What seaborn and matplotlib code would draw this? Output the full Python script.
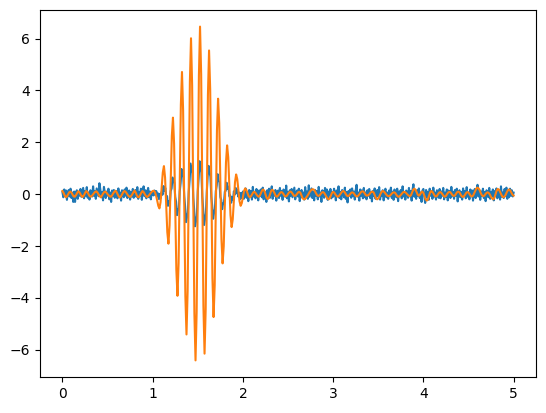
import numpy as np
import matplotlib
matplotlib.use("Agg")
import matplotlib.pyplot as plt
import seaborn as sns

blue = [
    0.08, -0.12, 0.18, -0.06, 0.14, -0.22, 0.06, 0.16, -0.09, 0.21, -0.15, 0.06, -0.30, 0.10, -0.30, 0.06, 0.15, -0.18, 0.09, -0.06,
    0.20, -0.10, 0.06, 0.24, -0.16, 0.12, -0.06, 0.27, -0.14, 0.06, -0.21, 0.15, 0.08, -0.09, 0.30, -0.06, 0.12, -0.18, 0.22, 0.06,
    -0.08, 0.42, 0.18, -0.12, 0.09, -0.24, 0.28, 0.06, -0.15, 0.10, -0.06, 0.21, -0.20, 0.06, -0.30, 0.14, -0.08, 0.16, -0.14, 0.06,
    0.12, -0.16, 0.22, -0.06, 0.06, -0.25, 0.15, 0.09, -0.12, 0.18, -0.06, 0.25, -0.15, -0.06, 0.14, -0.21, 0.08, -0.09, 0.20, -0.14,
    0.06, 0.16, -0.10, 0.27, -0.18, 0.09, -0.06, 0.21, -0.22, 0.12, 0.30, -0.08, 0.15, -0.16, 0.06, 0.24, -0.12, 0.10, -0.20, 0.06,
    # burst 1.0 .. 2.0
    0.06, -0.05, 0.14, -0.02, 0.12, -0.09, 0.03, -0.19, 0.01, -0.15,
    0.09, -0.02, 0.31, 0.13, 0.24, -0.10, -0.08, -0.45, -0.27, -0.35,
    0.12, 0.22, 0.64, 0.47, 0.45, -0.11, -0.30, -0.81, -0.62, -0.55,
    0.10, 0.43, 0.97, 0.79, 0.64, -0.08, -0.49, -1.08, -0.90, -0.71,
    0.09, 0.56, 1.18, 1.00, 0.80, -0.12, -0.60, -1.24, -1.05, -0.83,
    0.11, 0.63, 1.27, 1.06, 0.82, -0.09, -0.58, -1.19, -0.97, -0.74,
    0.08, 0.71, 1.09, 0.86, 0.67, -0.10, -0.45, -0.95, -0.72, -0.57,
    0.12, 0.33, 0.77, 0.52, 0.46, -0.11, -0.22, -0.58, -0.36, -0.34,
    0.10, 0.13, 0.44, 0.20, 0.29, -0.09, -0.05, -0.33, -0.11, -0.23,
    0.11, -0.02, 0.24, 0.03, 0.17, -0.10, 0.06, -0.19, 0.04, -0.15,
    # 2.0 .. 5.0
    0.10, -0.18, 0.06, 0.22, -0.14, 0.08, -0.27, 0.16, -0.06, 0.12, -0.21, 0.28, -0.09, 0.06, -0.16, 0.20, 0.06, -0.24, 0.14, -0.06,
    0.18, -0.12, 0.25, -0.20, 0.09, 0.06, -0.30, 0.15, -0.08, 0.21, -0.14, 0.06, 0.30, -0.18, 0.10, -0.06, 0.16, -0.25, 0.08, 0.14,
    -0.15, 0.24, -0.06, 0.12, -0.22, 0.18, 0.06, -0.10, 0.33, -0.16, 0.09, -0.28, 0.15, -0.06, 0.20, -0.12, 0.06, 0.25, -0.20, 0.06,
    0.14, -0.09, 0.21, -0.27, 0.08, 0.16, -0.14, 0.06, -0.21, 0.27, -0.06, 0.10, -0.18, 0.34, -0.10, 0.06, 0.22, -0.15, 0.09, -0.24,
    0.16, -0.06, 0.12, -0.20, 0.28, -0.09, 0.06, -0.30, 0.15, 0.06, -0.14, 0.24, -0.08, 0.18, -0.22, 0.10, -0.06, 0.20, -0.16, 0.08,
    -0.10, 0.21, 0.06, -0.24, 0.14, -0.06, 0.30, -0.15, 0.09, -0.20, 0.16, 0.06, -0.12, 0.25, -0.18, 0.08, -0.32, 0.12, -0.06, 0.18,
    -0.14, 0.22, -0.08, 0.10, -0.21, 0.15, 0.36, -0.09, 0.06, -0.25, 0.18, -0.06, 0.14, -0.16, 0.24, -0.12, 0.06, -0.20, 0.15, -0.06,
    0.20, -0.15, 0.09, -0.28, 0.12, -0.06, 0.22, -0.18, 0.08, 0.16, -0.10, 0.27, -0.21, 0.06, -0.08, 0.15, -0.24, 0.10, 0.21, -0.12,
    0.06, -0.18, 0.14, -0.06, 0.25, -0.15, 0.09, -0.22, 0.18, 0.06, -0.12, 0.21, -0.27, 0.10, -0.06, 0.16, -0.16, 0.30, -0.09, 0.06,
    -0.21, 0.14, 0.06, -0.14, 0.24, -0.08, 0.12, -0.25, 0.18, 0.38, -0.10, 0.08, -0.18, 0.15, -0.06, 0.22, -0.15, 0.06, -0.30, 0.14,
    0.20, -0.09, -0.34, 0.16, -0.12, 0.09, -0.22, 0.21, -0.06, 0.12, -0.18, 0.25, -0.09, 0.06, -0.21, 0.15, 0.08, -0.14, 0.20, -0.16,
    0.10, -0.06, 0.24, -0.20, 0.06, -0.10, 0.18, -0.24, 0.14, 0.06, -0.15, 0.28, -0.08, 0.09, -0.18, 0.16, -0.06, 0.21, -0.28, 0.06,
    0.15, -0.12, 0.08, -0.21, 0.22, -0.06, 0.12, -0.16, 0.27, -0.10, 0.06, -0.20, 0.18, -0.08, 0.14, -0.25, 0.09, 0.20, -0.15, 0.06,
    0.36, -0.09, 0.16, -0.22, 0.10, -0.06, 0.21, -0.15, 0.08, -0.27, 0.15, 0.06, -0.12, 0.24, -0.18, 0.09, -0.06, 0.18, -0.24, 0.12,
    -0.06, 0.22, -0.16, 0.08, 0.14, -0.21, 0.30, -0.10, 0.06, -0.15, 0.20, -0.08, 0.25, -0.18, 0.09, -0.12, 0.21, -0.06, 0.15, -0.09,
    0.06,
]

# filtered / amplified signal, sampled every 0.0125 s (0 .. 5 s)
orange = [
    0.12, 0.05, -0.05, -0.12, -0.09, -0.01, 0.07, 0.10,
    0.06, -0.02, -0.09, -0.10, -0.04, 0.04, 0.11, 0.08,
    0.00, -0.08, -0.11, -0.05, 0.04, 0.12, 0.09, 0.01,
    -0.07, -0.10, -0.07, -0.02, 0.04, 0.09, 0.11, 0.07,
    -0.01, -0.08, -0.12, -0.06, 0.02, 0.08, 0.10, 0.06,
    0.00, -0.05, -0.09, -0.10, -0.05, 0.03, 0.09, 0.13,
    0.08, -0.01, -0.09, -0.13, -0.08, 0.00, 0.08, 0.12,
    0.09, 0.03, -0.04, -0.09, -0.11, -0.07, 0.00, 0.08,
    0.14, 0.06, -0.05, -0.12, -0.11, -0.03, 0.06, 0.12,
    0.08, 0.00, -0.07, -0.11, -0.08, -0.03, 0.03, 0.08,
    0.12, 0.13, 0.08, -0.05, -0.24, -0.45, -0.55, -0.31,
    0.27, 0.84, 1.08, 0.64, -0.42, -1.47, -1.91, -1.20,
    0.52, 2.24, 2.95, 1.95, -0.49, -2.92, -3.92, -2.66,
    0.40, 3.45, 4.71, 3.23, -0.35, -3.93, -5.41, -3.74,
    0.30, 4.34, 6.01, 4.20, -0.20, -4.60, -6.41, -4.53,
    0.03, 4.58, 6.46, 4.62, 0.16, -4.31, -6.15, -4.44,
    -0.31, 3.83, 5.54, 4.04, 0.40, -3.24, -4.74, -3.51,
    -0.53, 2.45, 3.68, 2.75, 0.51, -1.74, -2.67, -2.01,
    -0.40, 1.22, 1.88, 1.42, 0.31, -0.81, -1.27, -0.97,
    -0.26, 0.46, 0.76, 0.58, 0.16, -0.27, -0.45, -0.35,
    -0.12, 0.12, 0.22, 0.17, 0.05, -0.07, -0.12, -0.09,
    -0.02, 0.06, 0.09, 0.06, -0.01, -0.07, -0.10, -0.06,
    0.04, 0.14, 0.18, 0.13, 0.00, -0.14, -0.19, -0.14,
    -0.01, 0.12, 0.17, 0.13, 0.04, -0.06, -0.10, -0.07,
    -0.01, 0.05, 0.08, 0.06, 0.00, -0.07, -0.09, -0.06,
    0.01, 0.07, 0.10, 0.08, 0.02, -0.05, -0.07, -0.05,
    0.01, 0.07, 0.09, 0.05, -0.06, -0.16, -0.20, -0.19,
    -0.14, -0.08, -0.01, 0.07, 0.13, 0.18, 0.19, 0.17,
    0.10, 0.02, -0.05, -0.07, -0.05, 0.01, 0.06, 0.08,
    0.05, -0.02, -0.10, -0.17, -0.20, -0.16, -0.06, 0.05,
    0.09, 0.06, -0.01, -0.07, -0.10, -0.08, -0.02, 0.04,
    0.10, 0.12, 0.09, 0.02, -0.05, -0.08, -0.06, 0.00,
    0.05, 0.07, 0.05, -0.01, -0.07, -0.09, -0.07, -0.02,
    0.04, 0.09, 0.11, 0.09, 0.03, -0.04, -0.06, -0.04,
    -0.01, 0.05, 0.09, 0.10, 0.06, -0.05, -0.16, -0.20,
    -0.17, -0.09, 0.01, 0.09, 0.12, 0.10, 0.05, -0.01,
    -0.06, -0.08, -0.07, -0.03, 0.02, 0.06, 0.07, 0.05,
    -0.02, -0.08, -0.10, -0.08, -0.03, 0.02, 0.07, 0.09,
    0.07, 0.03, -0.02, -0.06, -0.08, -0.04, 0.07, 0.17,
    0.21, 0.17, 0.08, -0.02, -0.06, -0.02, 0.06, 0.10,
    0.05, -0.08, -0.20, -0.25, -0.20, -0.07, 0.07, 0.12,
    0.09, 0.02, -0.06, -0.09, -0.07, 0.00, 0.06, 0.08,
    0.05, -0.01, -0.07, -0.10, -0.07, 0.00, 0.06, 0.09,
    0.07, 0.01, -0.05, -0.07, -0.05, 0.02, 0.08, 0.10,
    0.07, -0.01, -0.08, -0.11, -0.08, -0.02, 0.05, 0.08,
    0.06, 0.00, -0.07, -0.09, -0.06, 0.03, 0.13, 0.22,
    0.25, 0.22, 0.14, 0.03, -0.05, -0.08, -0.06, 0.00,
    0.05, 0.07, 0.04, -0.02, -0.11, -0.17, -0.20, -0.14,
    0.00, 0.14, 0.20, 0.17, 0.09, -0.01, -0.09, -0.12,
    -0.09, -0.02, 0.08, 0.15, 0.18, 0.14, 0.06, -0.02,
    -0.06,
]

t_blue = np.linspace(0, 5, len(blue))
t_orange = np.linspace(0, 5, len(orange))

fig, ax = plt.subplots(figsize=(5.46, 4.13), dpi=100)
fig.subplots_adjust(left=0.073, right=0.982, bottom=0.087, top=0.976)

sns.lineplot(x=t_blue, y=blue, color="#1f77b4", linewidth=1.5, estimator=None, ax=ax)
sns.lineplot(x=t_orange, y=orange, color="#ff7f0e", linewidth=1.5, estimator=None, ax=ax)

ax.set_yticks([-6, -4, -2, 0, 2, 4, 6])
ax.set_xticks([0, 1, 2, 3, 4, 5])

plt.savefig("out.png", dpi=100)
